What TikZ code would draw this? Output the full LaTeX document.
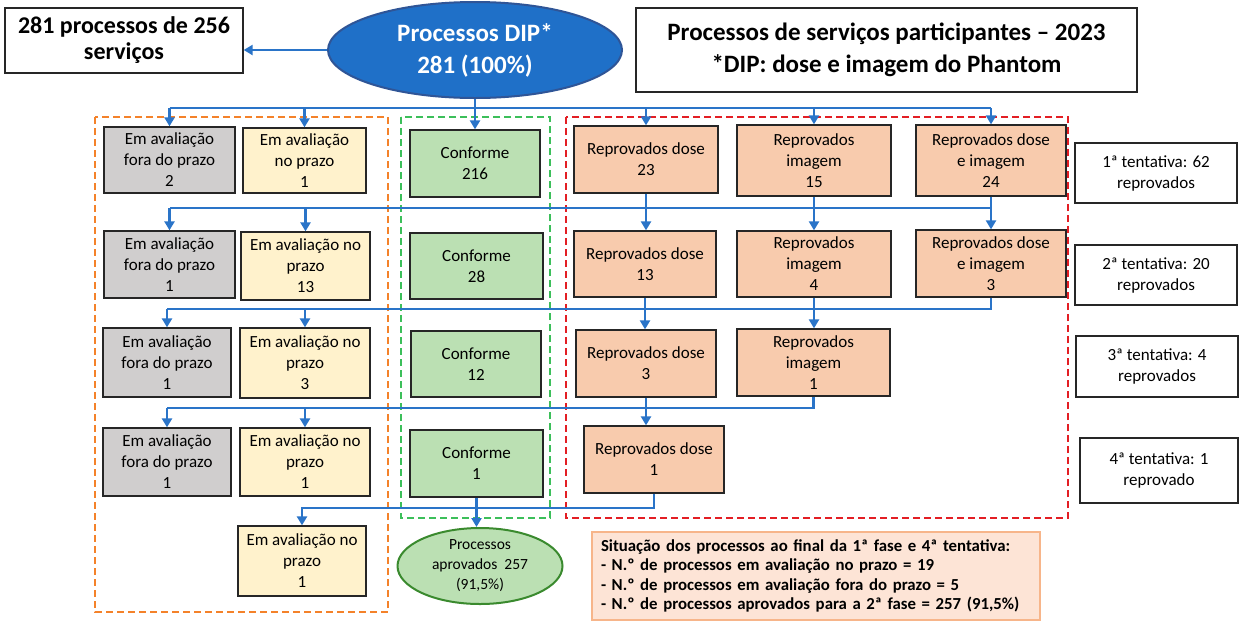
\documentclass[tikz,border=0pt]{standalone}
\usepackage{fontspec}
\setmainfont{Carlito}
\usetikzlibrary{arrows.meta,shapes.geometric}
\definecolor{cgray}{HTML}{D0CECE}
\definecolor{cyel}{HTML}{FFF2CC}
\definecolor{cgreen}{HTML}{BBE0B3}
\definecolor{corange}{HTML}{F8CBAD}
\definecolor{cblue}{HTML}{2A74C8}
\definecolor{dipfill}{HTML}{1F70C8}
\definecolor{dipdraw}{HTML}{2F5597}
\definecolor{frameor}{HTML}{F4822A}
\definecolor{framegr}{HTML}{3CBF5A}
\definecolor{framerd}{HTML}{E31E24}
\definecolor{okdraw}{HTML}{3A8A2E}
\definecolor{sumfill}{HTML}{FDE4D6}
\definecolor{sumdraw}{HTML}{F7B58A}
\begin{document}
\begin{tikzpicture}[x=1pt,y=-1pt,
  box/.style={draw=black!85, line width=1.3pt, align=center, inner sep=1pt,
    font=\fontsize{17}{21}\selectfont},
  gbox/.style={box, fill=cgray},
  ybox/.style={box, fill=cyel},
  cbox/.style={box, fill=cgreen},
  rbox/.style={box, fill=corange},
  tbox/.style={box, fill=white, line width=1.6pt},
  conn/.style={draw=cblue, line width=2.8pt},
  arr/.style={conn, -{Triangle[width=10pt,length=9pt]}},
  frame/.style={line width=1.3pt, dash pattern=on 7pt off 4pt},
]
\useasboundingbox (0,0) rectangle (1241,622);
\fill[white] (0,0) rectangle (1241,622);

% dashed frames
\draw[frame, frameor] (95,117) rectangle (388,612);
\draw[frame, framegr] (401,117) rectangle (550,518);
\draw[frame, framerd] (566,117) rectangle (1068,518);

% header
\node[ellipse, fill=dipfill, draw=dipdraw, line width=2pt, minimum width=294pt, minimum height=96pt,
  text=white, align=center, inner sep=0pt, font=\fontsize{25}{32}\selectfont\bfseries] (dip) at (475,50)
  {Processos DIP*\\281 (100\%)};
\node[box, fill=white, minimum width=238pt, minimum height=65pt,
  font=\fontsize{24}{26}\selectfont\bfseries] (n281) at (124,40.5)
  {281 processos de 256\\serviços};
\node[box, fill=white, minimum width=501pt, minimum height=84pt,
  font=\fontsize{25}{32}\selectfont\bfseries] (title) at (886.5,50)
  {Processos de serviços participantes – 2023\\*DIP: dose e imagem do Phantom};

% row 1
\node[gbox, minimum width=131pt, minimum height=66pt] (g1) at (169.5,160) {Em avaliação\\fora do prazo\\2};
\node[ybox, minimum width=123pt, minimum height=65pt] (y1) at (304.5,160.5) {Em avaliação\\no prazo\\1};
\node[cbox, minimum width=130pt, minimum height=67pt] (c1) at (475,163.5) {Conforme\\216};
\node[rbox, minimum width=144pt, minimum height=67pt] (r1a) at (646,159.5) {Reprovados dose\\23};
\node[rbox, minimum width=154pt, minimum height=71pt] (r1b) at (814,160.5) {Reprovados\\imagem\\15};
\node[rbox, minimum width=150pt, minimum height=71pt] (r1c) at (991,160.5) {Reprovados dose\\e imagem\\24};
\node[tbox, minimum width=162pt, minimum height=60pt] (t1) at (1156,173) {1ª tentativa: 62\\reprovados};

% row 2
\node[gbox, minimum width=131pt, minimum height=67pt] (g2) at (169.5,264.5) {Em avaliação\\fora do prazo\\1};
\node[ybox, minimum width=129pt, minimum height=68pt] (y2) at (305.5,266) {Em avaliação no\\prazo\\13};
\node[cbox, minimum width=133pt, minimum height=66pt] (c2) at (476.5,266) {Conforme\\28};
\node[rbox, minimum width=142pt, minimum height=66pt] (r2a) at (645,264) {Reprovados dose\\13};
\node[rbox, minimum width=154pt, minimum height=66pt] (r2b) at (814,264) {Reprovados\\imagem\\4};
\node[rbox, minimum width=150pt, minimum height=67pt] (r2c) at (991,263.5) {Reprovados dose\\e imagem\\3};
\node[tbox, minimum width=162pt, minimum height=60pt] (t2) at (1156,275) {2ª tentativa: 20\\reprovados};

% row 3
\node[gbox, minimum width=128pt, minimum height=69pt] (g3) at (167,362.5) {Em avaliação\\fora do prazo\\1};
\node[ybox, minimum width=130pt, minimum height=70pt] (y3) at (305,363) {Em avaliação no\\prazo\\3};
\node[cbox, minimum width=130pt, minimum height=66pt] (c3) at (476,364) {Conforme\\12};
\node[rbox, minimum width=140pt, minimum height=67pt] (r3a) at (646,363.5) {Reprovados dose\\3};
\node[rbox, minimum width=153pt, minimum height=67pt] (r3b) at (813.5,362.5) {Reprovados\\imagem\\1};
\node[tbox, minimum width=162pt, minimum height=61pt] (t3) at (1157,366.5) {3ª tentativa: 4\\reprovados};

% row 4
\node[gbox, minimum width=128pt, minimum height=68pt] (g4) at (167,462) {Em avaliação\\fora do prazo\\1};
\node[ybox, minimum width=130pt, minimum height=68pt] (y4) at (305,462) {Em avaliação no\\prazo\\1};
\node[cbox, minimum width=133pt, minimum height=67pt] (c4) at (476.5,463.5) {Conforme\\1};
\node[rbox, minimum width=140pt, minimum height=67pt] (r4) at (654,459.5) {Reprovados dose\\1};
\node[tbox, minimum width=158pt, minimum height=65pt] (t4) at (1159,470.5) {4ª tentativa: 1\\reprovado};

% row 5
\node[ybox, minimum width=128pt, minimum height=70pt] (y5) at (302,561) {Em avaliação no\\prazo\\1};
\node[ellipse, fill=cgreen, draw=okdraw, line width=2pt, minimum width=165pt, minimum height=76pt,
  align=center, inner sep=0pt, font=\fontsize{15.5}{20}\selectfont] (ok) at (480,566)
  {Processos\\aprovados~~257\\(91,5\%)};
\node[fill=sumfill, draw=sumdraw, line width=2pt, minimum width=448pt, minimum height=88pt,
  align=left, inner xsep=9pt, text width=430pt, font=\fontsize{16.8}{19.5}\selectfont\bfseries] (sum) at (816,576)
  {Situação dos processos ao final da 1ª fase e 4ª tentativa:\\
   - N.º de processos em avaliação no prazo = 19\\
   - N.º de processos em avaliação fora do prazo = 5\\
   - N.º de processos aprovados para a 2ª fase = 257 (91,5\%)};

% connectors
\coordinate (b0) at (0,108);
\coordinate (b1) at (0,208);
\coordinate (b2) at (0,309);
\coordinate (b3) at (0,408);
\coordinate (b4) at (0,508);

\draw[arr] (dip.west) -- (n281.east |- dip.west);

\draw[conn] (dip.south) -- (dip.south |- b0);
\draw[conn] (g1.north |- b0) -- (r1c.north |- b0);
\foreach \n in {g1,y1,c1,r1a,r1b,r1c}
  \draw[arr] (\n.north |- b0) -- (\n.north);

% level 2
\draw[conn] (r1c.south) -- (r1c.south |- b1) -- (g2.north |- b1);
\draw[arr] (r1a.south) -- (r1a.south |- r2a.north);
\draw[arr] (r1b.south) -- (r1b.south |- r2b.north);
\draw[arr] (r1c.south) -- (r1c.south |- r2c.north);
\draw[arr] (g2.north |- b1) -- (g2.north);
\draw[arr] (y2.north |- b1) -- (y2.north);

% level 3
\draw[conn] (r2c.south) -- (r2c.south |- b2) -- (g3.north |- b2);
\draw[arr] (r2a.south) -- (r2a.south |- r3a.north);
\draw[arr] (r2b.south) -- (r2b.south |- r3b.north);
\draw[arr] (g3.north |- b2) -- (g3.north);
\draw[arr] (y3.north |- b2) -- (y3.north);

% level 4
\draw[conn] (r3b.south) -- (r3b.south |- b3) -- (g4.north |- b3);
\draw[arr] (r3a.south) -- (r3a.south |- r4.north);
\draw[arr] (g4.north |- b3) -- (g4.north);
\draw[arr] (y4.north |- b3) -- (y4.north);

% level 5
\draw[arr] (r4.south) -- (r4.south |- b4) -- (y5.north |- b4) -- (y5.north);
\draw[arr] (c4.south) -- (c4.south |- ok.north);
\end{tikzpicture}
\end{document}
